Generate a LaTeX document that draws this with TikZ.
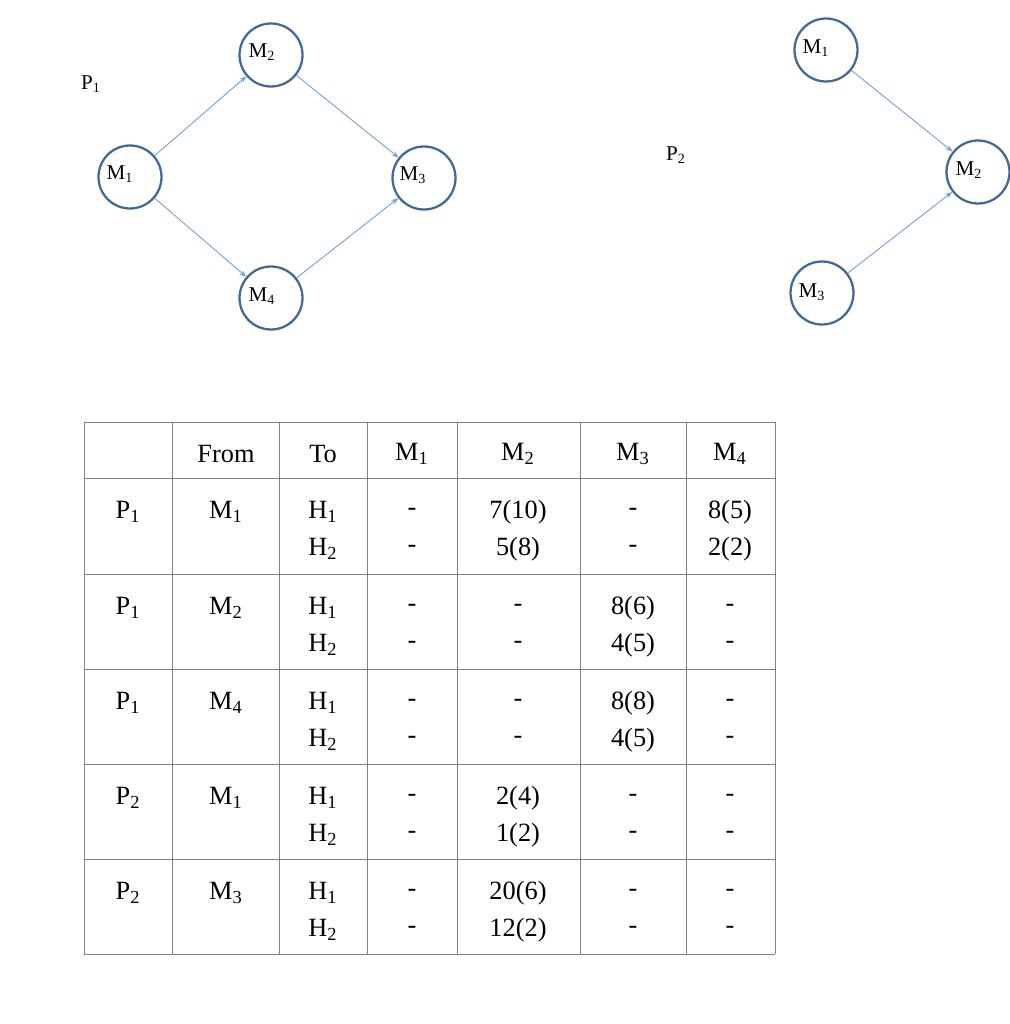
\documentclass[tikz,border=0pt]{standalone}
\usepackage{fontspec}
\setmainfont{Liberation Serif}
\usetikzlibrary{arrows.meta}
\begin{document}
\begin{tikzpicture}[x=0.02cm,y=-0.02cm,
  mc/.style={circle,draw={rgb,255:red,66;green,106;blue,152},line width=1.3pt,minimum size=1.26cm,inner sep=0pt},
  ml/.style={font=\fontsize{12}{14}\selectfont,inner sep=0pt},
  ar/.style={draw={rgb,255:red,110;green,160;blue,215},line width=0.5pt,-{Stealth[length=4pt,width=3pt]}},
  tl/.style={draw={rgb,255:red,128;green,128;blue,128},line width=0.5pt},
  tt/.style={font=\fontsize{15}{17}\selectfont,inner sep=0pt}]
\useasboundingbox (0,0) rectangle (1009,1024);
% P1
\node[ml] (p1) at (91,84) {P\textsubscript{1}};
\node[mc] (a1) at (130,177) {}; \node[ml] (a1t) at (120,174) {M\textsubscript{1}};
\node[mc] (a2) at (271,55) {}; \node[ml] (a2t) at (262,52) {M\textsubscript{2}};
\node[mc] (a3) at (424,178) {}; \node[ml] (a3t) at (413,175) {M\textsubscript{3}};
\node[mc] (a4) at (271,298) {}; \node[ml] (a4t) at (262,296) {M\textsubscript{4}};
\draw[ar] (a1) -- (a2); \draw[ar] (a2) -- (a3);
\draw[ar] (a1) -- (a4); \draw[ar] (a4) -- (a3);
% P2
\node[ml] (p2) at (676,155) {P\textsubscript{2}};
\node[mc] (b1) at (826,50) {}; \node[ml] (b1t) at (816,48) {M\textsubscript{1}};
\node[mc] (b2) at (978,172) {}; \node[ml] (b2t) at (969,170) {M\textsubscript{2}};
\node[mc] (b3) at (822,293) {}; \node[ml] (b3t) at (812,292) {M\textsubscript{3}};
\draw[ar] (b1) -- (b2); \draw[ar] (b3) -- (b2);
% table
\foreach \x in {84,172,279,367,457,580,686,775} \draw[tl] (\x,422) -- (\x,954);
\foreach \y in {422,478,574,669,764,859,954} \draw[tl] (84,\y) -- (775,\y);
\node[tt] at (226,454) {From};
\node[tt] at (323,454) {To};
\node[tt] at (412,454) {M\textsubscript{1}};
\node[tt] at (518,454) {M\textsubscript{2}};
\node[tt] at (633,454) {M\textsubscript{3}};
\node[tt] at (730,454) {M\textsubscript{4}};
\foreach \y/\p/\f/\a/\b/\c/\d/\e/\g in {
 478/1/1/7(10)/5(8)/-/-/8(5)/2(2),
 574/1/2/-/-/8(6)/4(5)/-/-,
 669/1/4/-/-/8(8)/4(5)/-/-,
 764/2/1/2(4)/1(2)/-/-/-/-,
 859/2/3/20(6)/12(2)/-/-/-/-}{
  \node[tt] at (128,\y+34) {P\textsubscript{\p}};
  \node[tt] at (226,\y+34) {M\textsubscript{\f}};
  \node[tt] at (323,\y+34) {H\textsubscript{1}};
  \node[tt] at (323,\y+71) {H\textsubscript{2}};
  \node[tt] at (412,\y+34) {-};
  \node[tt] at (412,\y+71) {-};
  \node[tt] at (518,\y+34) {\a};
  \node[tt] at (518,\y+71) {\b};
  \node[tt] at (633,\y+34) {\c};
  \node[tt] at (633,\y+71) {\d};
  \node[tt] at (730,\y+34) {\e};
  \node[tt] at (730,\y+71) {\g};
}
\end{tikzpicture}
\end{document}
